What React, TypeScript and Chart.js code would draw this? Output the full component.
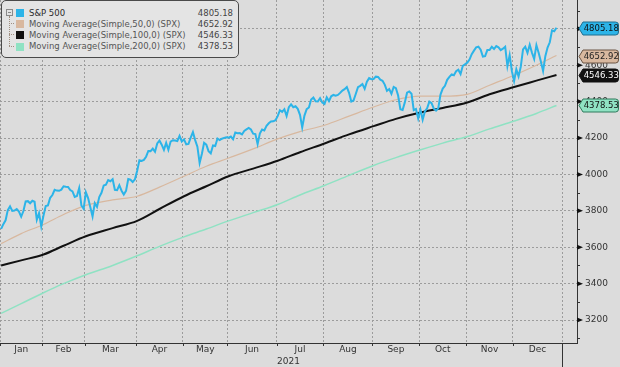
import React, { useEffect, useRef } from 'react';
import { Chart, registerables } from 'chart.js';

Chart.register(...registerables);

// ---- data ----
const monthLabels = ['Jan', 'Feb', 'Mar', 'Apr', 'May', 'Jun', 'Jul', 'Aug', 'Sep', 'Oct', 'Nov', 'Dec'];
// trading-day index where each month starts (last entry = end of year)
const monthStartIdx = [0, 19, 38, 61, 82, 102, 124, 145, 167, 188, 209, 230, 252];
const yearLabel = '2021';
const yTickValues = [3200, 3400, 3600, 3800, 4000, 4200, 4400, 4600, 4800];
const yMinorTicks = [3100, 3300, 3500, 3700, 3900, 4100, 4300, 4500, 4700, 4900];

const seriesNames = [
  'S&P 500',
  'Moving Average(Simple,50,0) (SPX)',
  'Moving Average(Simple,100,0) (SPX)',
  'Moving Average(Simple,200,0) (SPX)',
];

// S&P 500 daily values (trading days from Jan 4)
const spxClose = [
  // Jan
  3700.65, 3726.86, 3748.14, 3803.79, 3824.68, 3799.61, 3801.19, 3809.84, 3795.54, 3768.25,
  3798.91, 3851.85, 3853.07, 3841.47, 3855.36, 3849.62, 3750.77, 3787.38, 3714.24,
  // Feb
  3773.86, 3826.31, 3830.17, 3871.74, 3886.83, 3915.59, 3911.23, 3909.88, 3916.38, 3934.83,
  3932.59, 3931.33, 3913.97, 3906.71, 3876.5, 3881.37, 3925.43, 3829.34, 3811.15,
  // Mar
  3901.82, 3870.29, 3819.72, 3768.47, 3841.94, 3821.35, 3875.44, 3898.81, 3939.34, 3943.34,
  3968.94, 3962.71, 3974.12, 3915.46, 3913.1, 3940.59, 3910.52, 3889.14, 3909.52, 3974.54,
  3971.09, 3958.55, 3972.89,
  // Apr
  4019.87, 4077.91, 4073.94, 4079.95, 4097.17, 4128.8, 4127.99, 4141.59, 4124.66, 4170.42,
  4185.47, 4163.26, 4134.94, 4173.42, 4134.98, 4180.17, 4187.62, 4186.72, 4183.18, 4211.47,
  4181.17,
  // May
  4192.66, 4164.66, 4167.59, 4201.62, 4232.6, 4188.43, 4152.1, 4063.04, 4112.5, 4173.85,
  4163.29, 4127.83, 4115.68, 4159.12, 4155.86, 4197.05, 4188.13, 4195.99, 4200.88, 4204.11,
  // Jun
  4202.04, 4208.12, 4192.85, 4229.89, 4226.52, 4227.26, 4219.55, 4239.18, 4247.44, 4255.15,
  4246.59, 4223.7, 4221.86, 4166.45, 4224.79, 4246.44, 4241.84, 4266.49, 4280.7, 4290.61,
  4291.8, 4297.5,
  // Jul
  4319.94, 4352.34, 4343.54, 4358.13, 4320.82, 4369.55, 4384.63, 4369.21, 4374.3, 4360.03,
  4327.16, 4258.49, 4323.06, 4358.69, 4367.48, 4411.79, 4422.3, 4401.46, 4400.64, 4419.15,
  4395.26,
  // Aug
  4387.16, 4423.15, 4402.66, 4429.1, 4436.52, 4432.35, 4436.75, 4447.7, 4460.83, 4468.0,
  4479.71, 4448.08, 4400.27, 4405.8, 4441.67, 4479.53, 4486.23, 4496.19, 4470.0, 4509.37,
  4528.79, 4522.68,
  // Sep
  4524.09, 4536.95, 4535.43, 4520.03, 4514.07, 4493.28, 4458.58, 4468.73, 4443.05, 4480.7,
  4473.75, 4432.99, 4357.73, 4354.19, 4395.64, 4448.98, 4455.48, 4443.11, 4352.63, 4359.46,
  4307.54,
  // Oct
  4357.04, 4300.46, 4345.72, 4363.55, 4399.76, 4391.34, 4361.19, 4350.65, 4363.8, 4438.26,
  4471.37, 4486.46, 4519.63, 4536.19, 4549.78, 4544.9, 4566.48, 4574.79, 4551.68, 4596.42,
  4605.38,
  // Nov
  4613.67, 4630.65, 4660.57, 4680.06, 4697.53, 4701.7, 4685.25, 4646.71, 4649.27, 4682.85,
  4682.8, 4700.9, 4688.67, 4704.54, 4697.96, 4682.94, 4690.7, 4701.46, 4594.62, 4655.27,
  4567.0,
  // Dec
  4513.04, 4577.1, 4538.43, 4591.67, 4686.75, 4701.21, 4667.45, 4712.02, 4668.97, 4634.09,
  4709.85, 4668.67, 4620.64, 4568.02, 4649.23, 4696.56, 4725.79, 4791.19, 4786.35, 4805.18,
];

// moving averages read at roughly half-month steps
const maIdx = [0, 9, 19, 28, 38, 50, 61, 71, 82, 92, 102, 113, 124, 134, 145, 156, 167, 177, 188, 198, 209, 219, 230, 240, 249];
const ma50 = [3620, 3675, 3725, 3780, 3830, 3860, 3880, 3930, 3990, 4045, 4090, 4140, 4195, 4235, 4270, 4320, 4370, 4410, 4430, 4430, 4440, 4490, 4545, 4600, 4652.92];
const ma100 = [3500, 3528, 3560, 3608, 3660, 3705, 3745, 3810, 3880, 3935, 3990, 4032, 4075, 4122, 4170, 4220, 4265, 4305, 4340, 4365, 4395, 4440, 4480, 4515, 4546.33];
const ma200 = [3237, 3290, 3350, 3400, 3449, 3500, 3553, 3605, 3657, 3700, 3745, 3790, 3835, 3887, 3939, 3995, 4049, 4092, 4135, 4172, 4208, 4250, 4293, 4335, 4378.53];

// ---- styles ----
const BG = '#dcdcdc';
const FONT = "'DejaVu Sans', sans-serif";
const colors = ['#2cb4e8', '#d8b89f', '#111111', '#8fe2c3'];
const boxBorders = ['#1d6f90', '#6b5544', '#111111', '#2f7a5c'];
const boxText = ['#111111', '#222222', '#ffffff', '#111111'];

const boundaries = monthStartIdx.map((s) => s - 0.5);
const centers = monthLabels.map((_, i) => (monthStartIdx[i] + monthStartIdx[i + 1]) / 2 - 0.5);

const seriesLast = [
  spxClose[spxClose.length - 1],
  ma50[ma50.length - 1],
  ma100[ma100.length - 1],
  ma200[ma200.length - 1],
];

const decorPlugin = {
  id: 'decor',
  beforeDraw(chart: any) {
    const ctx = chart.ctx;
    ctx.save();
    ctx.fillStyle = BG;
    ctx.fillRect(0, 0, chart.width, chart.height);
    ctx.restore();
  },
  afterDraw(chart: any) {
    const { ctx, chartArea } = chart;
    const x = chart.scales.x;
    const y = chart.scales.y;
    ctx.save();
    ctx.strokeStyle = '#333';
    ctx.fillStyle = '#111';
    ctx.lineWidth = 1;
    // x tick marks at month boundaries
    boundaries.forEach((b) => {
      const px = Math.round(x.getPixelForValue(b)) + 0.5;
      ctx.beginPath();
      ctx.moveTo(px, chartArea.bottom);
      ctx.lineTo(px, chartArea.bottom + 3);
      ctx.stroke();
    });
    // year separator
    const yp = Math.round(x.getPixelForValue(boundaries[boundaries.length - 1])) + 0.5;
    ctx.beginPath();
    ctx.moveTo(yp, chartArea.bottom);
    ctx.lineTo(yp, chart.height);
    ctx.stroke();
    // y ticks
    const ax = chartArea.right;
    yMinorTicks.forEach((v) => {
      const py = Math.round(y.getPixelForValue(v)) + 0.5;
      if (py < chartArea.top || py > chartArea.bottom) return;
      ctx.beginPath();
      ctx.moveTo(ax, py);
      ctx.lineTo(ax + 3, py);
      ctx.stroke();
    });
    yTickValues.forEach((v) => {
      const py = y.getPixelForValue(v);
      ctx.beginPath();
      ctx.moveTo(ax, py - 2.5);
      ctx.lineTo(ax + 6, py);
      ctx.lineTo(ax, py + 2.5);
      ctx.closePath();
      ctx.fill();
    });
    // last value boxes
    ctx.font = `8.5px ${FONT}`;
    ctx.textBaseline = 'middle';
    ctx.textAlign = 'center';
    for (let k = seriesLast.length - 1; k >= 0; k--) {
      const v = seriesLast[k];
      const py = Math.round(y.getPixelForValue(v)) + 0.5;
      const left = ax + 2;
      const bodyL = ax + 6;
      const right = chart.width - 1.5;
      const h = 6.5;
      const r = 3;
      ctx.beginPath();
      ctx.moveTo(left, py);
      ctx.lineTo(bodyL, py - h);
      ctx.lineTo(right - r, py - h);
      ctx.quadraticCurveTo(right, py - h, right, py - h + r);
      ctx.lineTo(right, py + h - r);
      ctx.quadraticCurveTo(right, py + h, right - r, py + h);
      ctx.lineTo(bodyL, py + h);
      ctx.closePath();
      ctx.fillStyle = colors[k];
      ctx.fill();
      ctx.strokeStyle = boxBorders[k];
      ctx.lineWidth = 1;
      ctx.stroke();
      ctx.fillStyle = boxText[k];
      ctx.fillText(v.toFixed(2), (bodyL + right) / 2 + 0.5, py + 0.5);
    }
    ctx.restore();
  },
};

function Legend() {
  const rows = [12.5, 23.7, 34.9, 46.1];
  return (
    <div
      style={{
        position: 'absolute',
        left: 1,
        top: 0,
        width: 238,
        height: 58,
        boxSizing: 'border-box',
        background: '#e4e4e4',
        border: '1.5px solid #4a4a4a',
        borderRadius: 5,
        fontFamily: FONT,
        fontSize: '8.5px',
      }}
    >
      {/* tree glyph */}
      <div style={{ position: 'absolute', left: 4, top: 8, width: 5, height: 5, border: '1px solid #8a8a8a', boxSizing: 'content-box' }}>
        <div style={{ position: 'absolute', left: 1, top: 2, width: 3, height: 1, background: '#8a8a8a' }} />
      </div>
      <div style={{ position: 'absolute', left: 7, top: 15, width: 0, height: 30, borderLeft: '1px dotted #a08f80' }} />
      {rows.slice(1).map((r, i) => (
        <div key={i} style={{ position: 'absolute', left: 7, top: r - 1.5, width: 5, height: 0, borderTop: '1px dotted #a08f80' }} />
      ))}
      {seriesNames.map((name, i) => (
        <React.Fragment key={name}>
          <div
            style={{
              position: 'absolute',
              left: 14,
              top: rows[i] - 4.5,
              width: 8,
              height: 8,
              background: colors[i],
            }}
          />
          <div
            style={{
              position: 'absolute',
              left: 27,
              top: rows[i] - 7,
              height: 12,
              lineHeight: '12px',
              color: i === 0 ? '#2a2a2a' : '#555',
              whiteSpace: 'nowrap',
            }}
          >
            {name}
          </div>
          <div
            style={{
              position: 'absolute',
              right: 5,
              top: rows[i] - 7,
              height: 12,
              lineHeight: '12px',
              color: '#444',
              whiteSpace: 'nowrap',
            }}
          >
            {seriesLast[i].toFixed(2)}
          </div>
        </React.Fragment>
      ))}
    </div>
  );
}

export default function App() {
  const canvasRef = useRef<HTMLCanvasElement | null>(null);

  useEffect(() => {
    const canvas = canvasRef.current;
    if (!canvas) return;
    const toPts = (xs: number[], ys: number[]) => ys.map((v, i) => ({ x: xs[i], y: v }));
    const spxPts = spxClose.map((v, i) => ({ x: i, y: v }));
    const labelMap = new Map<number, string>();
    centers.forEach((c, i) => labelMap.set(c, monthLabels[i]));
    const boundarySet = new Set(boundaries);
    const majorSet = new Set(yTickValues);
    const noPad = (scale: any) => {
      scale.paddingTop = 0;
      scale.paddingBottom = 0;
      scale.paddingLeft = 0;
      scale.paddingRight = 0;
    };

    const chart = new Chart(canvas, {
      type: 'line',
      data: {
        datasets: [
          { label: seriesNames[0], data: spxPts, borderColor: colors[0], borderWidth: 2, pointRadius: 0, tension: 0 },
          { label: seriesNames[1], data: toPts(maIdx, ma50), borderColor: colors[1], borderWidth: 1.2, pointRadius: 0, cubicInterpolationMode: 'monotone' },
          { label: seriesNames[2], data: toPts(maIdx, ma100), borderColor: colors[2], borderWidth: 2, pointRadius: 0, cubicInterpolationMode: 'monotone' },
          { label: seriesNames[3], data: toPts(maIdx, ma200), borderColor: colors[3], borderWidth: 1.5, pointRadius: 0, cubicInterpolationMode: 'monotone' },
        ],
      } as any,
      options: {
        responsive: false,
        animation: false,
        events: [],
        layout: { padding: 0 },
        plugins: { legend: { display: false }, tooltip: { enabled: false } },
        scales: {
          x: {
            type: 'linear',
            min: -0.5,
            max: 258.2,
            afterBuildTicks: (scale: any) => {
              scale.ticks = [...boundaries, ...centers].sort((a, b) => a - b).map((v) => ({ value: v }));
            },
            afterFit: (scale: any) => {
              scale.height = 24;
              noPad(scale);
            },
            ticks: {
              autoSkip: false,
              maxRotation: 0,
              padding: 1,
              color: '#333',
              font: { family: FONT, size: 9 },
              callback: (v: any) => labelMap.get(Number(v)) ?? '',
            },
            grid: {
              drawTicks: false,
              color: (c: any) => (boundarySet.has(c.tick?.value) ? '#9c9c9c' : 'rgba(0,0,0,0)'),
              lineWidth: 1,
            },
            border: { display: true, color: '#333', width: 1, dash: [2, 2] },
            title: {
              display: true,
              text: yearLabel,
              color: '#333',
              font: { family: FONT, size: 9 },
              padding: { top: 1, bottom: 0 },
            },
          },
          y: {
            type: 'linear',
            position: 'right',
            min: 3074,
            max: 4958,
            afterBuildTicks: (scale: any) => {
              scale.ticks = yTickValues.map((v) => ({ value: v }));
            },
            afterFit: (scale: any) => {
              scale.width = 43;
              noPad(scale);
            },
            ticks: {
              padding: 8,
              color: '#333',
              font: { family: FONT, size: 9 },
              callback: (v: any) => String(v),
            },
            grid: {
              drawTicks: false,
              color: (c: any) => (majorSet.has(c.tick?.value) ? '#9c9c9c' : 'rgba(0,0,0,0)'),
              lineWidth: 1,
            },
            border: { display: true, color: '#333', width: 1, dash: [2, 2] },
          },
        },
      } as any,
      plugins: [decorPlugin],
    });
    return () => chart.destroy();
  }, []);

  return (
    <div style={{ position: 'fixed', left: 0, top: 0, width: 620, height: 367, background: BG, overflow: 'hidden' }}>
      <canvas ref={canvasRef} width={620} height={367} style={{ display: 'block' }} />
      <Legend />
    </div>
  );
}
